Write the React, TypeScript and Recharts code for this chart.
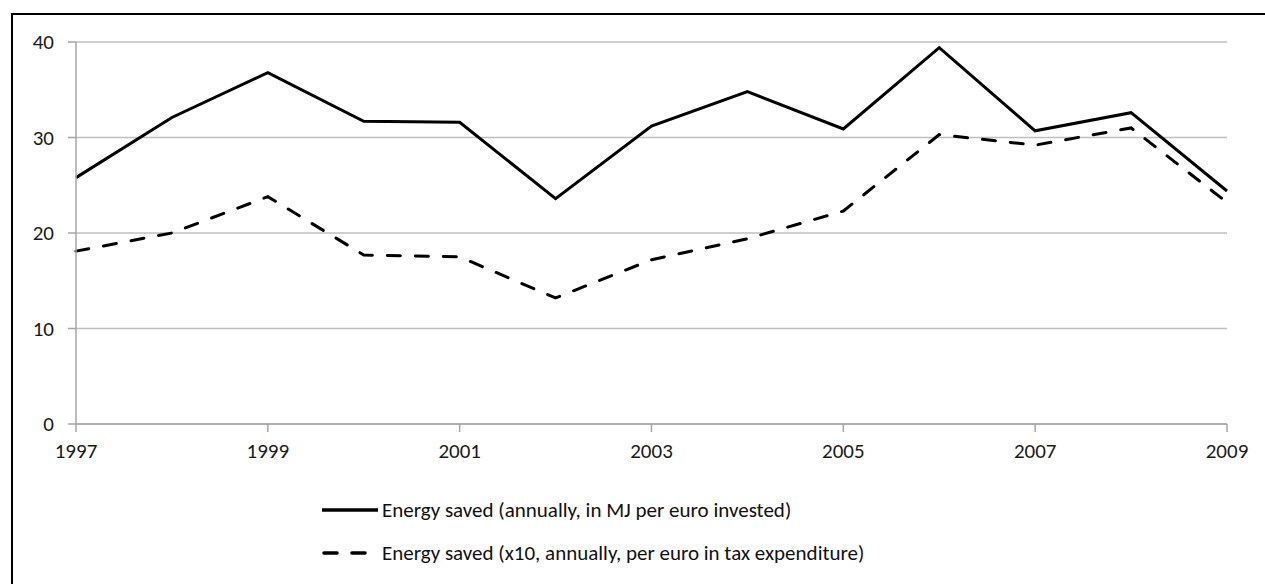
import { LineChart, Line, XAxis, YAxis, CartesianGrid } from 'recharts';

const years = [1997, 1998, 1999, 2000, 2001, 2002, 2003, 2004, 2005, 2006, 2007, 2008, 2009];
const investedValues = [25.8, 32.1, 36.8, 31.7, 31.6, 23.6, 31.2, 34.8, 30.9, 39.4, 30.7, 32.6, 24.4];
const taxValues = [18.1, 20.0, 23.8, 17.7, 17.5, 13.2, 17.2, 19.4, 22.3, 30.3, 29.2, 31.0, 23.2];
const xTicks = [1997, 1999, 2001, 2003, 2005, 2007, 2009];
const yTicks = [0, 10, 20, 30, 40];

const series = [
  { key: 'invested', label: 'Energy saved (annually, in MJ per euro invested)', dash: undefined as string | undefined },
  { key: 'tax', label: 'Energy saved (x10, annually, per euro in tax expenditure)', dash: '13 15' },
];

const data = years.map((year, i) => ({
  year,
  invested: investedValues[i],
  tax: taxValues[i],
}));

const FONT = 'Carlito, Calibri, Lato, sans-serif';
const axisGray = '#a6a6a6';

export default function App() {
  return (
    <div style={{ position: 'absolute', left: 0, top: 0, width: 1265, height: 584, overflow: 'hidden', background: '#fff' }}>
      <div
        style={{
          position: 'absolute',
          left: 11,
          top: 13,
          width: 1300,
          height: 600,
          borderLeft: '2px solid #000',
          borderTop: '2px solid #000',
        }}
      />
      <div style={{ position: 'absolute', left: 0, top: 0 }}>
        <LineChart width={1265} height={480} data={data} margin={{ top: 42, right: 38, left: 0, bottom: 20 }}>
          <CartesianGrid vertical={false} stroke="#bfbfbf" strokeWidth={1.5} />
          <XAxis
            dataKey="year"
            type="number"
            domain={[1997, 2009]}
            ticks={xTicks}
            height={36}
            stroke={axisGray}
            strokeWidth={1.5}
            tickSize={8}
            tickMargin={11}
            tick={{ fontSize: 21, fill: '#1a1a1a', fontFamily: FONT }}
          />
          <YAxis
            domain={[0, 40]}
            ticks={yTicks}
            width={76}
            stroke={axisGray}
            strokeWidth={1.5}
            tickSize={8}
            tickMargin={14}
            tick={{ fontSize: 21, fill: '#1a1a1a', fontFamily: FONT }}
          />
          {series.map((s) => (
            <Line
              key={s.key}
              type="linear"
              dataKey={s.key}
              stroke="#000"
              strokeWidth={3}
              strokeDasharray={s.dash}
              strokeLinecap={s.dash ? 'round' : 'butt'}
              dot={false}
              activeDot={false}
              isAnimationActive={false}
            />
          ))}
        </LineChart>
      </div>
      {series.map((s, i) => (
        <div
          key={s.key}
          style={{
            position: 'absolute',
            left: 322,
            top: 510 + i * 43 - 14,
            height: 28,
            display: 'flex',
            alignItems: 'center',
            fontFamily: FONT,
            fontSize: 21,
            color: '#111',
            whiteSpace: 'nowrap',
          }}
        >
          <svg width={60} height={28} style={{ display: 'block' }}>
            <line
              x1={s.dash ? 2 : 0}
              x2={s.dash ? 46 : 56}
              y1={14}
              y2={14}
              stroke="#000"
              strokeWidth={3.5}
              strokeDasharray={s.dash ? '13 15' : undefined}
              strokeLinecap={s.dash ? 'round' : 'butt'}
            />
          </svg>
          <span>{s.label}</span>
        </div>
      ))}
    </div>
  );
}
